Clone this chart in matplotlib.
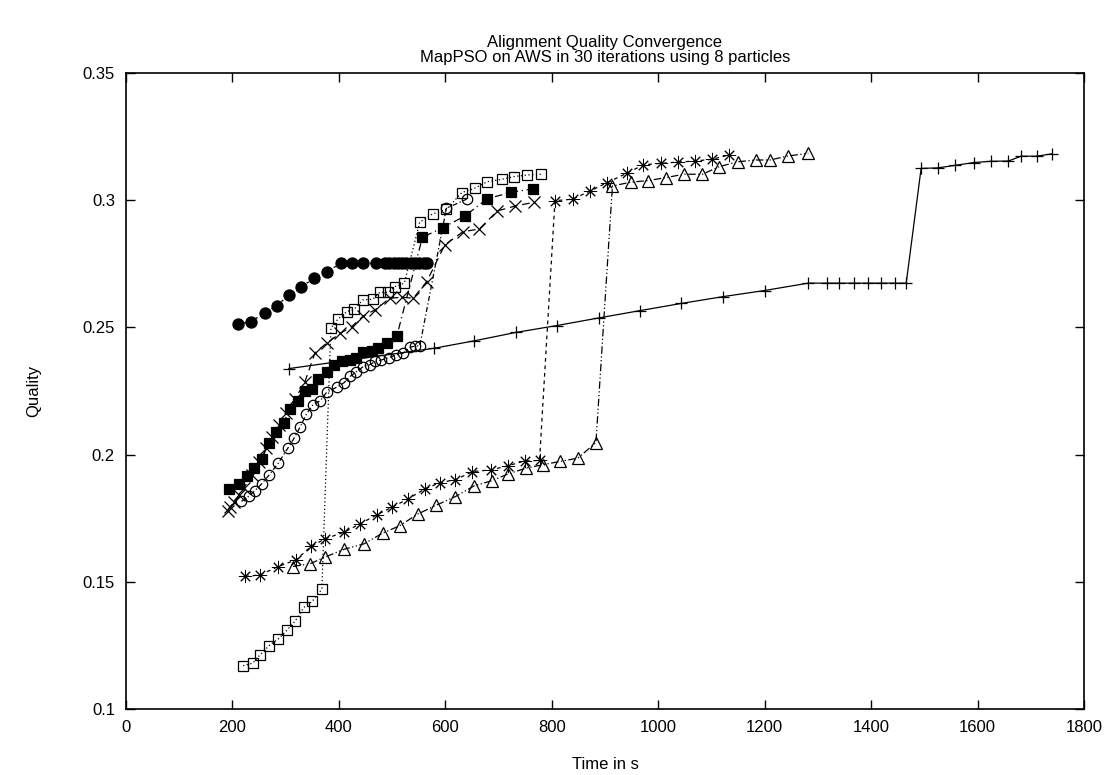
import matplotlib
matplotlib.use("Agg")
import matplotlib.pyplot as plt

plt.rcParams['font.family'] = ['Liberation Sans', 'DejaVu Sans']

# --- data (time in s, quality) ---
plus_t = [306, 579, 654, 732, 809, 888, 966, 1043, 1122, 1200, 1282, 1318, 1339,
          1368, 1395, 1419, 1444, 1466, 1494, 1525, 1558, 1593, 1625, 1658, 1682,
          1711, 1739]
plus_q = [0.2338, 0.2418, 0.2447, 0.2480, 0.2507, 0.2537, 0.2566, 0.2594, 0.2621,
          0.2645, 0.2674, 0.2674, 0.2674, 0.2674, 0.2674, 0.2674, 0.2674, 0.2674,
          0.3125, 0.3127, 0.3137, 0.3148, 0.3153, 0.3154, 0.3173, 0.3173, 0.3182]

cross_t = [191, 196, 203, 212, 222, 236, 250, 264, 275, 287, 300, 318, 336, 355,
           377, 403, 424, 446, 468, 496, 518, 540, 565, 599, 633, 664, 698, 731, 767]
cross_q = [0.1780, 0.1795, 0.1815, 0.1840, 0.1870, 0.1920, 0.1970, 0.2025, 0.2070,
           0.2115, 0.2165, 0.2220, 0.2285, 0.2400, 0.2438, 0.2477, 0.2503, 0.2545,
           0.2569, 0.2615, 0.2618, 0.2615, 0.2680, 0.2824, 0.2876, 0.2887, 0.2958,
           0.2977, 0.2992]

star_t = [224, 252, 286, 319, 348, 374, 410, 440, 471, 499, 529, 561, 590, 619,
          651, 686, 718, 749, 777, 806, 839, 872, 904, 941, 972, 1005, 1038, 1069,
          1102, 1133]
star_q = [0.1521, 0.1527, 0.1560, 0.1586, 0.1639, 0.1669, 0.1695, 0.1728, 0.1763,
          0.1792, 0.1825, 0.1864, 0.1890, 0.1901, 0.1933, 0.1940, 0.1956, 0.1975,
          0.1977, 0.2998, 0.3004, 0.3036, 0.3069, 0.3106, 0.3139, 0.3145, 0.3150,
          0.3154, 0.3161, 0.3178]

osq_t = [220, 238, 252, 269, 286, 303, 318, 334, 350, 368, 385, 398, 415, 429,
         445, 464, 477, 493, 505, 523, 552, 576, 602, 631, 655, 679, 706, 729,
         754, 780]
osq_q = [0.1170, 0.1180, 0.1213, 0.1249, 0.1275, 0.1311, 0.1346, 0.1399, 0.1423,
         0.1471, 0.2497, 0.2532, 0.2562, 0.2572, 0.2608, 0.2611, 0.2638, 0.2638,
         0.2660, 0.2674, 0.2914, 0.2946, 0.2964, 0.3030, 0.3047, 0.3073, 0.3082,
         0.3093, 0.3099, 0.3102]

fsq_t = [194, 213, 227, 241, 255, 269, 282, 296, 308, 323, 336, 349, 361, 377,
         391, 405, 420, 432, 446, 462, 474, 490, 509, 557, 595, 637, 678, 723, 764]
fsq_q = [0.1864, 0.1885, 0.1916, 0.1947, 0.1982, 0.2047, 0.2087, 0.2126, 0.2179,
         0.2212, 0.2248, 0.2257, 0.2298, 0.2326, 0.2353, 0.2366, 0.2372, 0.2379,
         0.2405, 0.2409, 0.2418, 0.2438, 0.2467, 0.2854, 0.2892, 0.2938, 0.3005,
         0.3031, 0.3044]

ocirc_t = [217, 232, 242, 255, 269, 286, 304, 316, 327, 339, 351, 365, 377, 396,
           410, 421, 433, 446, 458, 468, 480, 494, 507, 521, 534, 543, 552, 602, 640]
ocirc_q = [0.1816, 0.1838, 0.1858, 0.1885, 0.1920, 0.1966, 0.2025, 0.2065, 0.2108,
           0.2159, 0.2195, 0.2212, 0.2245, 0.2265, 0.2283, 0.2307, 0.2326, 0.2346,
           0.2353, 0.2366, 0.2372, 0.2381, 0.2392, 0.2399, 0.2422, 0.2427, 0.2427,
           0.2968, 0.3004]

fcirc_t = [210, 235, 261, 284, 306, 328, 354, 377, 404, 425, 446, 470, 487, 495,
           503, 511, 519, 527, 535, 543, 551, 559, 566]
fcirc_q = [0.2513, 0.2523, 0.2558, 0.2586, 0.2628, 0.2658, 0.2693, 0.2719, 0.2752,
           0.2752, 0.2752, 0.2752, 0.2752, 0.2752, 0.2752, 0.2752, 0.2752, 0.2752,
           0.2752, 0.2752, 0.2752, 0.2752, 0.2752]

tri_t = [314, 346, 374, 410, 447, 482, 514, 548, 582, 619, 654, 687, 718, 752,
         783, 815, 849, 883, 914, 949, 981, 1015, 1048, 1083, 1115, 1149, 1183,
         1210, 1244, 1282]
tri_q = [0.1560, 0.1571, 0.1597, 0.1628, 0.1649, 0.1691, 0.1720, 0.1766, 0.1800,
         0.1835, 0.1877, 0.1897, 0.1924, 0.1947, 0.1960, 0.1973, 0.1986, 0.2047,
         0.3056, 0.3071, 0.3077, 0.3089, 0.3102, 0.3102, 0.3132, 0.3151, 0.3158,
         0.3158, 0.3174, 0.3184]

x_ticks = [0, 200, 400, 600, 800, 1000, 1200, 1400, 1600, 1800]
y_ticks = [0.1, 0.15, 0.2, 0.25, 0.3, 0.35]
y_tick_labels = ["0.1", "0.15", "0.2", "0.25", "0.3", "0.35"]

fig = plt.figure(figsize=(11.16, 7.75), dpi=100)
ax = fig.add_axes([0.1129, 0.0852, 0.8584, 0.8206])

k = dict(color="black", lw=0.9)
ax.plot(plus_t, plus_q, marker="+", ms=9, mew=0.9, linestyle="-", **k)
ax.plot(cross_t, cross_q, marker="x", ms=8, mew=0.9, linestyle=(0, (6, 4)), **k)
ax.plot(star_t, star_q, marker=(8, 2, 0), ms=9.5, mew=0.7, linestyle=(0, (3, 3)), **k)
ax.plot(osq_t, osq_q, marker="s", ms=7.5, mew=0.9, mfc="none",
        linestyle=(0, (1, 2)), **k)
ax.plot(fsq_t, fsq_q, marker="s", ms=7.5, mew=0.9, linestyle=(0, (6, 3, 1, 3)), **k)
ax.plot(ocirc_t, ocirc_q, marker="o", ms=7.5, mew=0.9, mfc="none",
        linestyle=(0, (4, 2, 1, 2)), **k)
ax.plot(fcirc_t, fcirc_q, marker="o", ms=8, mew=0.9, linestyle=(0, (2, 3)), **k)
ax.plot(tri_t, tri_q, marker="^", ms=8, mew=0.9, mfc="none",
        linestyle=(0, (6, 2, 1, 2, 1, 2)), **k)

ax.set_xlim(0, 1800)
ax.set_ylim(0.1, 0.35)
ax.set_xticks(x_ticks)
ax.set_yticks(y_ticks)
ax.set_yticklabels(y_tick_labels)
ax.tick_params(direction="in", length=6.5, width=1.0, top=True, right=True,
               labelsize=12, pad=8, colors="black")
for s in ax.spines.values():
    s.set_linewidth(1.2)

ax.set_xlabel("Time in s", fontsize=12, labelpad=16)
ax.set_ylabel("Quality", fontsize=12, labelpad=30)
ax.set_title("Alignment Quality Convergence\nMapPSO on AWS in 30 iterations using 8 particles",
             fontsize=12, linespacing=1.0, pad=8)

fig.savefig("out.png", dpi=100)
